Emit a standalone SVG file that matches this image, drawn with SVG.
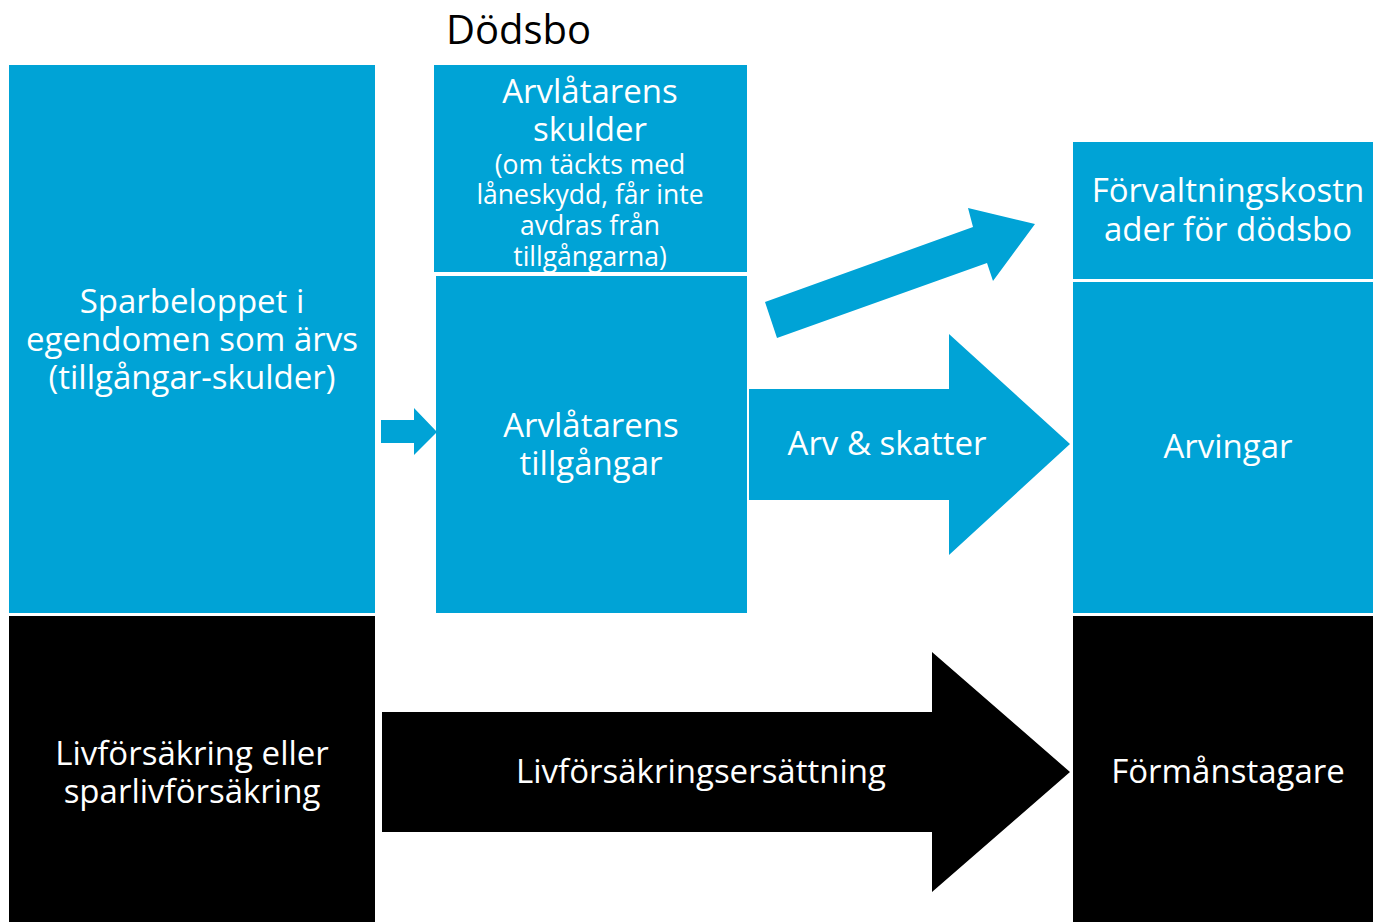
<svg xmlns="http://www.w3.org/2000/svg" width="1373" height="922" viewBox="0 0 1373 922">
<style>
.b{fill:#00A3D6}
.k{fill:#000}
text{font-family:"Open Sans","Noto Sans",sans-serif;fill:#fff;text-anchor:middle;font-size:33px}
.s{font-size:26.5px}
.t{fill:#000;text-anchor:start;font-size:40px}
</style>
<rect width="1373" height="922" fill="#fff"/>
<text class="t" x="446" y="44">Dödsbo</text>
<g id="connectors">
<polygon class="b" points="381,420 414,420 414,408 437,432 414,455 414,443 381,443"/>
<polygon class="b" points="765,302 973,227 968,208 1035,224 993,281 987,263 777,338"/>
<polygon class="b" points="749,389 949,389 949,334 1070,444 949,555 949,500 749,500"/>
<polygon class="k" points="382,712 932,712 932,652 1070,772 932,892 932,832 382,832"/>
<text x="887" y="455">Arv &amp; skatter</text>
<text x="701" y="783">Livförsäkringsersättning</text>
</g>
<g id="n-sparbelopp">
<rect class="b" x="9" y="65" width="366" height="548"/>
<text x="192" y="313">Sparbeloppet i</text>
<text x="192" y="351">egendomen som ärvs</text>
<text x="192" y="389">(tillgångar-skulder)</text>
</g>
<g id="n-livforsakring">
<rect class="k" x="9" y="616" width="366" height="306"/>
<text x="192" y="765">Livförsäkring eller</text>
<text x="192" y="803">sparlivförsäkring</text>
</g>
<g id="n-skulder">
<rect class="b" x="434" y="65" width="313" height="207"/>
<text x="590" y="103">Arvlåtarens</text>
<text x="590" y="141">skulder</text>
<text class="s" x="590" y="174">(om täckts med</text>
<text class="s" x="590" y="204">låneskydd, får inte</text>
<text class="s" x="590" y="235">avdras från</text>
<text class="s" x="590" y="266">tillgångarna)</text>
</g>
<g id="n-tillgangar">
<rect class="b" x="436" y="276" width="311" height="337"/>
<text x="591" y="437">Arvlåtarens</text>
<text x="591" y="475">tillgångar</text>
</g>
<g id="n-forvaltning">
<rect class="b" x="1073" y="142" width="300" height="137"/>
<text x="1228" y="202">Förvaltningskostn</text>
<text x="1228" y="241">ader för dödsbo</text>
</g>
<g id="n-arvingar">
<rect class="b" x="1073" y="282" width="300" height="331"/>
<text x="1228" y="458">Arvingar</text>
</g>
<g id="n-formanstagare">
<rect class="k" x="1073" y="616" width="300" height="306"/>
<text x="1228" y="783">Förmånstagare</text>
</g>
</svg>
